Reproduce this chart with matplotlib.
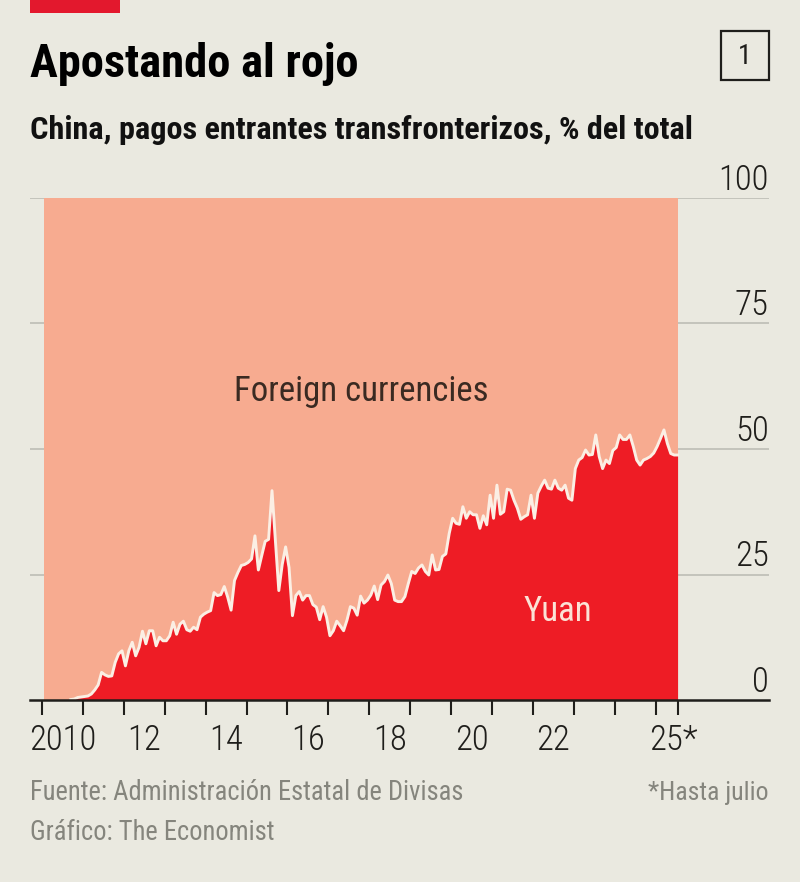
import numpy as np
import matplotlib
matplotlib.use("Agg")
import matplotlib.pyplot as plt
from matplotlib.patches import Rectangle

# =========================
# DATA (monthly, % of total)
# =========================
y2010 = [0, 0, 0, 0, 0, 0, 0, 0, 0.1, 0.2, 0.5, 0.6]
y2011 = [0.7, 0.8, 1.2, 2.0, 3.0, 5.5, 5.0, 4.7, 4.8, 7.5, 9.2, 9.8]
y2012 = [6.8, 9.8, 11.5, 8.8, 10.5, 13.7, 11.2, 13.8, 13.8, 10.8, 12.5, 11.8]
y2013 = [11.8, 12.8, 15.5, 13.1, 15.1, 15.7, 14.0, 13.7, 14.5, 14.0, 16.5, 17.1]
y2014 = [17.5, 17.8, 21.4, 20.8, 21.0, 22.6, 20.5, 17.9, 23.8, 25.4, 26.8, 27.0]
y2015 = [27.4, 28.1, 32.7, 25.9, 28.8, 31.6, 32.0, 41.7, 31.7, 21.8, 27.0, 30.5]
y2016 = [26.4, 16.8, 20.8, 21.6, 19.9, 20.8, 20.8, 19.0, 18.5, 16.0, 18.6, 16.5]
y2017 = [12.8, 13.8, 15.7, 14.8, 13.8, 15.9, 18.6, 18.3, 16.9, 20.7, 19.3, 19.9]
y2018 = [20.9, 22.7, 20.0, 22.9, 23.6, 24.9, 23.2, 19.9, 19.6, 19.6, 20.6, 23.2]
y2019 = [25.6, 25.2, 26.3, 26.9, 25.6, 24.9, 28.9, 25.9, 26.0, 28.6, 29.1, 33.2]
y2020 = [36.2, 35.2, 35.0, 38.5, 36.2, 37.5, 36.9, 36.9, 34.2, 36.7, 34.9, 40.8]
y2021 = [36.2, 42.8, 37.0, 37.5, 42.0, 41.8, 39.8, 38.2, 36.0, 36.5, 36.9, 40.8]
y2022 = [36.2, 41.2, 42.6, 43.8, 42.2, 42.0, 43.8, 42.2, 41.8, 42.8, 40.2, 39.8]
y2023 = [46.1, 47.8, 48.3, 49.8, 48.8, 48.9, 52.8, 48.5, 46.1, 47.8, 47.1, 49.7]
y2024 = [50.3, 52.8, 51.9, 51.9, 52.8, 50.5, 47.8, 46.8, 47.8, 48.1, 48.5, 49.2]
y2025 = [50.5, 52.1, 53.8, 51.1, 49.1, 48.8, 48.8]

yuan = y2010 + y2011 + y2012 + y2013 + y2014 + y2015 + y2016 + y2017 + y2018 \
    + y2019 + y2020 + y2021 + y2022 + y2023 + y2024 + y2025
months = 2010 + np.arange(len(yuan)) / 12 + 0.04

y_ticks = [0, 25, 50, 75, 100]
x_ticks = list(range(2010, 2026)) + [2025.56]
x_label_pos = [2010.5, 2012.5, 2014.5, 2016.5, 2018.5, 2020.5, 2022.5, 2025.45]
x_labels = ["2010", "12", "14", "16", "18", "20", "22", "25*"]

# =========================
# STYLE
# =========================
BG = "#EAE9E0"
RED = "#EE1C25"
PINK = "#F7AB90"
DARK = "#1F1E1B"
GREY = "#85857D"
W, H = 800, 882

plt.rcParams["font.family"] = ["Roboto Condensed", "Roboto", "DejaVu Sans"]

fig = plt.figure(figsize=(W / 100, H / 100), dpi=100, facecolor=BG)


def fx(px):
    return px / W


def fy(py):
    return 1 - py / H


# =========================
# CHART
# =========================
ax = fig.add_axes([fx(30), fy(700), (769 - 30) / W, (700 - 198) / H])
ax.set_facecolor("none")
ax.set_xlim(2010 - 12 / 40.9, 2010 + (769 - 42) / 40.9)
ax.set_ylim(0, 100)

for t in y_ticks:
    if t > 0:
        ax.axhline(t, color="#BDBDB5", lw=1.2, zorder=1)
    ax.text(1, t + 1.6, str(t), transform=ax.get_yaxis_transform(), ha="right", va="baseline",
            fontsize=25, fontweight="light", color=DARK)

ax.fill_between([months[0], x_ticks[-1]], 0, 100, color=PINK, lw=0, zorder=2)
ax.fill_between(months, 0, yuan, color=RED, lw=0, zorder=3)
ax.plot(months[8:], yuan[8:], color="#FBEFE4", lw=2.1, solid_joinstyle="round", zorder=4)

for s in ["top", "left", "right"]:
    ax.spines[s].set_visible(False)
ax.spines["bottom"].set_color(DARK)
ax.spines["bottom"].set_linewidth(1.8)
ax.spines["bottom"].set_zorder(5)

ax.set_yticks([])
ax.set_xticks(x_ticks)
ax.set_xticklabels([])
ax.tick_params(axis="x", which="major", length=11, width=1.5, color=DARK)
ax.set_xticks(x_label_pos, minor=True)
ax.set_xticklabels(x_labels, minor=True, fontsize=25, fontweight="light", color=DARK)
ax.tick_params(axis="x", which="minor", length=0, pad=17)

ax.text(2017.8, 61.4, "Foreign currencies", ha="center", va="center", fontsize=25, color="#3A2A22", zorder=6)
ax.text(2022.6, 17.6, "Yuan", ha="center", va="center", fontsize=25, color="#FBE3D6", zorder=6)

# =========================
# HEADER / FOOTER
# =========================
fig.add_artist(Rectangle((fx(30), fy(13)), 90 / W, 13 / H, transform=fig.transFigure, color="#E3182D", lw=0))
fig.text(fx(30), fy(77), "Apostando al rojo", fontsize=33.5, fontweight="bold", color="black")
fig.text(fx(30), fy(139), "China, pagos entrantes transfronterizos, % del total", fontsize=23.2,
         fontweight="bold", color="#111111")

fig.add_artist(Rectangle((fx(720.5), fy(79.5)), 48 / W, 48.5 / H, transform=fig.transFigure,
                         facecolor="none", edgecolor=DARK, lw=1.6))
fig.text(fx(744.5), fy(56), "1", fontsize=20, color=DARK, ha="center", va="center")

fig.text(fx(30), fy(800), "Fuente: Administración Estatal de Divisas", fontsize=19.1, color=GREY)
fig.text(fx(30), fy(840), "Gráfico: The Economist", fontsize=19.1, color=GREY)
fig.text(fx(769), fy(800), "*Hasta julio", fontsize=18.6, color=GREY, ha="right")

fig.savefig("out.png", dpi=100, facecolor=BG)
